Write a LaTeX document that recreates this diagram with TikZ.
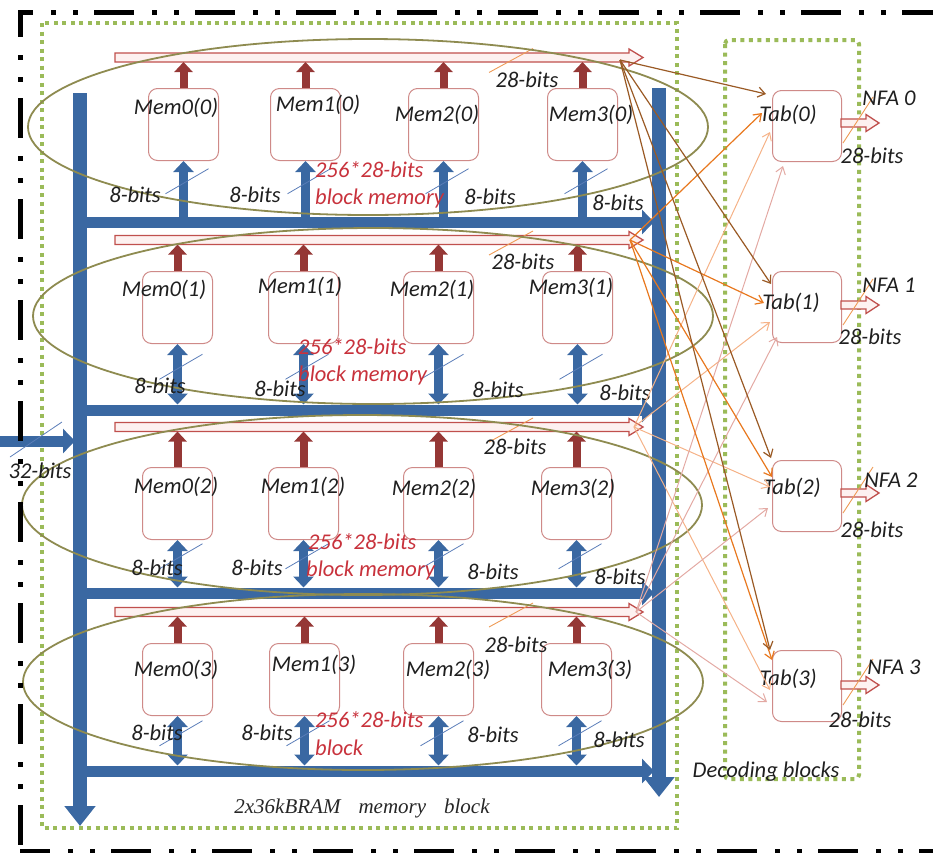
\documentclass[tikz,border=0pt]{standalone}
\usepackage{fontspec}
\setmainfont{Carlito}
\newfontfamily\seriffont{Liberation Serif}
\usetikzlibrary{arrows.meta,calc}
\definecolor{busblue}{HTML}{3A68A2}
\definecolor{darkred}{HTML}{953735}
\definecolor{rose}{HTML}{C0504D}
\definecolor{boxrose}{HTML}{CF8A88}
\definecolor{pinkfill}{HTML}{FDF1F0}
\definecolor{dotgreen}{HTML}{9BBB59}
\definecolor{olivec}{HTML}{8E8B50}
\definecolor{fanbrown}{HTML}{9A5A25}
\definecolor{fanorange}{HTML}{E8781E}
\definecolor{fanpeach}{HTML}{F5B287}
\definecolor{fanpink}{HTML}{E3A9A3}
\definecolor{labred}{HTML}{C8323C}
\definecolor{slashblue}{HTML}{5A7DB8}
\definecolor{slashorange}{HTML}{EE9A55}
\begin{document}
\begin{tikzpicture}[x=1pt,y=-1pt,
  lab/.style={font=\fontsize{22.5}{26}\selectfont\itshape, text=black!88, inner sep=0pt},
  redlab/.style={font=\fontsize{22.5}{26}\selectfont\itshape, text=labred, inner sep=0pt, anchor=west},
  membox/.style={draw=boxrose, line width=1pt, fill=white, rounded corners=9pt, minimum width=70pt, minimum height=72pt, inner sep=0pt, anchor=north west},
  dotbox/.style={draw=dotgreen, line width=4pt, dash pattern=on 4pt off 4.5pt},
  hbus/.style={draw=busblue, line width=11pt, -{Triangle[length=12pt,width=24pt]}},
  vbus/.style={draw=busblue, line width=14pt, -{Triangle[length=20pt,width=30pt]}},
  uparrow/.style={draw=busblue, line width=9pt},
  redarrow/.style={draw=darkred, line width=8pt, -{Triangle[length=10pt,width=18pt]}},
  redbus/.style={draw=rose, line width=1.3pt, fill=pinkfill, line join=miter},
  elli/.style={draw=olivec, line width=1.8pt},
  slash/.style={draw=slashblue, line width=0.8pt},
  oslash/.style={draw=slashorange, line width=0.9pt},
  fan/.style={line width=1.2pt, -{Straight Barb[length=7pt,width=10pt]}},
  border/.style={draw=black, line width=5pt, dash pattern=on 40pt off 18pt on 5pt off 17pt on 5pt off 16pt}
]
\useasboundingbox (0,0) rectangle (933,852);

% dotted group boxes
\draw[dotbox] (42,23) rectangle (677,828);
\draw[dotbox, rounded corners=4pt] (725,40) rectangle (859,779);

% red output buses of the memory rows
\foreach \y in {57.5,240,427,612} {
  \draw[redbus] (115,\y-4.5) -- (629,\y-4.5) -- (629,\y-8.5) -- (643,\y) -- (629,\y+8.5) -- (629,\y+4.5) -- (115,\y+4.5) -- cycle;
  \draw[oslash] (489,\y+15) -- (533,\y-9);
}

% blue horizontal buses
\foreach \y in {222,410,593,771} {
  \draw[hbus] (80,\y) -- (654,\y);
}
% input bus
\draw[hbus] (0,441) -- (75,441);
\draw[slash] (10,457) -- (62,422);
% vertical buses
\draw[vbus] (80,93) -- (80,826);
\draw[vbus] (659,88) -- (659,797);

% memory boxes and arrows
\foreach \r/\top/\red/\blue/\la/\lb/\lc/\ld in {0/88/57.5/222/148/270/408/547, 1/271/240/410/142/268/403/542, 2/467/427/593/142/268/403/541, 3/643/612/771/142/269/403/541} {
  \pgfmathsetmacro{\rb}{\red+4.5}
  \pgfmathsetmacro{\bb}{\blue-5.5}
  \coordinate (rb\r) at (0,\rb);
  \coordinate (bb\r) at (0,\bb);
  \foreach \c/\l in {0/\la,1/\lb,2/\lc,3/\ld} {
    \node[membox] (m\r\c) at (\l,\top) {};
    \draw[redarrow] (m\r\c.north) -- (m\r\c.north |- rb\r);
    \ifnum\r=0
      \draw[uparrow, {Triangle[length=11pt,width=20pt]}-] (m\r\c.south) -- (m\r\c.south |- bb\r);
    \else
      \draw[uparrow, {Triangle[length=11pt,width=20pt]}-{Triangle[length=11pt,width=20pt]}] (m\r\c.south) -- (m\r\c.south |- bb\r);
    \fi
    \coordinate (mid\r\c) at ($(m\r\c.south)!0.5!(m\r\c.south |- bb\r)$);
    \draw[slash] ($(mid\r\c)+(-18,5)$) -- ($(mid\r\c)+(25,-20)$);
  }
}

% ellipses
\draw[elli] (368,127) ellipse [x radius=340, y radius=88];
\draw[elli] (373,316) ellipse [x radius=340, y radius=88];
\draw[elli] (362,505) ellipse [x radius=340, y radius=90];
\draw[elli] (363,682) ellipse [x radius=340, y radius=88];

% memory labels
\node[lab] (ml00) at (176,108) {Mem0(0)};
\node[lab] (ml01) at (318,105) {Mem1(0)};
\node[lab] (ml02) at (437,115) {Mem2(0)};
\node[lab] (ml03) at (591,115) {Mem3(0)};
\node[lab] (ml10) at (164,290) {Mem0(1)};
\node[lab] (ml11) at (300,287) {Mem1(1)};
\node[lab] (ml12) at (432,290) {Mem2(1)};
\node[lab] (ml13) at (571,288) {Mem3(1)};
\node[lab] (ml20) at (176,487) {Mem0(2)};
\node[lab] (ml21) at (303,487) {Mem1(2)};
\node[lab] (ml22) at (434,489) {Mem2(2)};
\node[lab] (ml23) at (573,489) {Mem3(2)};
\node[lab] (ml30) at (176,670) {Mem0(3)};
\node[lab] (ml31) at (314,665) {Mem1(3)};
\node[lab] (ml32) at (448,670) {Mem2(3)};
\node[lab] (ml33) at (590,670) {Mem3(3)};

% 8-bits labels
\foreach \x/\y [count=\i] in {135/195,255/195,490/197,618/203,
  160/386,280/389,498/390,625/393,
  157/568,257/568,493/572,620/577,
  157/733,267/733,493/735,619/740} {
  \node[lab] (eb\i) at (\x,\y) {8-bits};
}
% 28-bits labels at the red buses
\node[lab] (tb0) at (527,80) {28-bits};
\node[lab] (tb1) at (523,262) {28-bits};
\node[lab] (tb2) at (515,447) {28-bits};
\node[lab] (tb3) at (516,645) {28-bits};
\node[lab] (in32) at (40,471) {32-bits};

% red block memory labels
\node[redlab] (bm0a) at (315,170) {256*28-bits};
\node[redlab] (bm0b) at (315,198) {block memory};
\node[redlab] (bm1a) at (298,347) {256*28-bits};
\node[redlab] (bm1b) at (298,375) {block memory};
\node[redlab] (bm2a) at (308,542) {256*28-bits};
\node[redlab] (bm2b) at (306,570) {block memory};
\node[redlab] (bm3a) at (315,720) {256*28-bits};
\node[redlab] (bm3b) at (315,748) {block};

% decoding boxes
\foreach \r/\top/\ly in {0/90/123, 1/271/305, 2/460/493, 3/650/685} {
  \node[membox, minimum width=69pt, minimum height=71pt] (t\r) at (772,\top) {};
  \draw[redbus] (841,\ly-4) -- (866,\ly-4) -- (866,\ly-8.5) -- (879,\ly) -- (866,\ly+8.5) -- (866,\ly+4) -- (841,\ly+4) -- cycle;
  \draw[oslash] (843,\ly+20) -- (873,\ly-26);
}
\node[lab] (tl0) at (788,115) {Tab(0)};
\node[lab] (tl1) at (791,303) {Tab(1)};
\node[lab] (tl2) at (792,488) {Tab(2)};
\node[lab] (tl3) at (788,679) {Tab(3)};
\node[lab] (nf0) at (889,98) {NFA 0};
\node[lab] (nf1) at (889,285) {NFA 1};
\node[lab] (nf2) at (891,480) {NFA 2};
\node[lab] (nf3) at (894,667) {NFA 3};
\node[lab] (ob0) at (872,156) {28-bits};
\node[lab] (ob1) at (870,337) {28-bits};
\node[lab] (ob2) at (872,530) {28-bits};
\node[lab] (ob3) at (860,720) {28-bits};

% fan-out connectors
\coordinate (s0) at (620,60);
\coordinate (s1) at (630,240);
\coordinate (s2) at (634,427);
\coordinate (s3) at (636,612);
\draw[fan, draw=fanpeach, line width=1pt] (s2) -- ($(t0.north west)+(-2,42)$);
\draw[fan, draw=fanpeach, line width=1pt] (s2) -- ($(t1.north west)+(-2,51)$);
\draw[fan, draw=fanpeach, line width=1pt] (s2) -- ($(t2.north west)+(-2,27)$);
\draw[fan, draw=fanpeach, line width=1pt] (s2) -- ($(t3.north west)+(-2,40)$);
\draw[fan, draw=fanpink, line width=1pt] (s3) -- ($(t0.north west)+(11,76)$);
\draw[fan, draw=fanpink, line width=1pt] (s3) -- ($(t1.north west)+(5,66)$);
\draw[fan, draw=fanpink, line width=1pt] (s3) -- ($(t2.north west)+(-4,48)$);
\draw[fan, draw=fanpink, line width=1pt] (s3) -- ($(t3.north west)+(-5,52)$);
\draw[fan, draw=fanorange] (s1) -- ($(t0.north west)+(-10,23)$);
\draw[fan, draw=fanorange] (s1) -- ($(t1.north west)+(-8,32)$);
\draw[fan, draw=fanorange] (s1) -- ($(t2.north west)+(0,17)$);
\draw[fan, draw=fanorange] (s1) -- ($(t3.north west)+(0,10)$);
\draw[fan, draw=fanbrown] (s0) -- ($(t0.north west)+(-6,4)$);
\draw[fan, draw=fanbrown] (s0) -- ($(t1.north west)+(-1,13)$);
\draw[fan, draw=fanbrown] (s0) -- ($(t2.north west)+(-1,-2)$);
\draw[fan, draw=fanbrown] (s0) -- ($(t3.north west)+(-2,0)$);

% captions
\node[inner sep=0pt, font=\seriffont\fontsize{21}{25}\selectfont\itshape, text=black!85] (cap1) at (362,808) {2x36kBRAM\hspace{18pt}memory\hspace{18pt}block};
\node[lab] (cap2) at (766,772) {Decoding blocks};

% outer dash-dot border
\draw[border, dash phase=25pt] (18,12) -- (933,12);
\draw[border, dash phase=15pt] (20,12) -- (20,852);
\draw[border, dash phase=10pt] (20,851) -- (933,851);
\end{tikzpicture}
\end{document}
